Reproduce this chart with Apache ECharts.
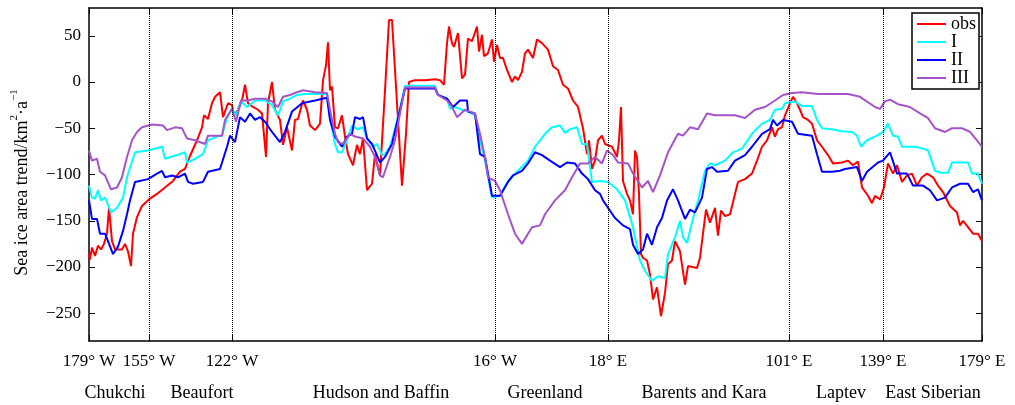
<!DOCTYPE html>
<html>
<head>
<meta charset="utf-8">
<script src="https://cdn.jsdelivr.net/npm/echarts@6/dist/echarts.min.js"></script>
<style>
  html, body { margin: 0; padding: 0; background: #fff; }
  #chart { width: 1015px; height: 405px; }
</style>
</head>
<body>
<div id="chart"></div>
<script>
// position along the coastline (0 = 179° W, 893 = 179° E)
const tickPos = [0, 60, 143, 406, 519, 700, 794, 893]
const tickLabels = ['179° W', '155° W', '122° W', '16° W', '18° E', '101° E', '139° E', '179° E']
const dividerPos = [60, 143, 406, 519, 700, 794]
const regionPos = [26, 113, 292, 456, 615, 752, 844]
const regionNames = ['Chukchi', 'Beaufort', 'Hudson and Baffin', 'Greenland', 'Barents and Kara', 'Laptev', 'East Siberian']
const yTicks = [-250, -200, -150, -100, -50, 0, 50]

const obsPos = [0,1,3,6,9,12,15,18,20,23,26,33,36,39,42,44,48,53,61,68,76,84,91,96,101,108,113,115,119,123,126,131,134,139,143,145,149,153,156,159,164,169,173,177,179,183,186,191,194,198,203,206,209,214,218,221,226,231,234,237,239,241,243,246,249,253,256,259,264,268,271,274,278,283,286,291,296,300,303,308,313,317,320,326,336,346,351,355,358,360,363,365,369,373,376,379,383,388,390,393,395,399,403,405,408,411,414,418,423,426,429,433,436,439,444,448,453,459,464,469,474,479,484,489,494,498,500,503,506,509,513,516,523,528,530,532,534,538,541,544,546,548,550,552,554,558,561,564,568,570,572,576,579,583,586,591,596,599,601,608,611,614,617,621,626,629,632,636,641,646,649,656,663,668,673,678,683,686,689,693,696,701,704,708,711,714,719,723,728,733,739,744,753,759,764,769,773,779,783,786,791,795,799,804,808,813,818,823,828,833,838,844,849,854,861,868,871,874,879,884,889,893]
const obs = [-186,-192,-179,-188,-177,-181,-175,-164,-136,-172,-181,-181,-175,-183,-199,-164,-146,-134,-126,-121,-114,-107,-97,-94,-80,-63,-49,-36,-40,-23,-16,-11,-38,-23,-25,-36,-30,-20,-3,-23,-27,-30,-34,-81,-23,0,-30,-41,-68,-49,-74,-41,-40,-20,-30,-47,-52,-45,2,18,43,-9,-5,-49,-50,-36,-59,-78,-90,-68,-78,-61,-117,-110,-78,-101,-9,67,67,-23,-112,-56,0,2,2,3,2,-3,42,60,42,38,53,4,8,47,44,60,33,51,28,31,46,22,40,26,26,13,0,6,2,11,31,35,26,46,42,35,17,13,-3,-7,-20,-27,-50,-78,-63,-94,-85,-63,-58,-67,-70,-81,-63,-27,-107,-121,-128,-143,-74,-81,-121,-186,-190,-193,-208,-235,-222,-220,-253,-228,-197,-193,-172,-183,-219,-199,-201,-201,-190,-164,-138,-152,-136,-166,-139,-145,-143,-121,-108,-105,-99,-85,-70,-63,-49,-59,-51,-49,-36,-23,-16,-23,-30,-38,-41,-45,-63,-70,-79,-88,-87,-85,-90,-86,-114,-123,-131,-123,-127,-114,-88,-99,-90,-108,-101,-99,-112,-103,-99,-103,-112,-119,-134,-141,-155,-150,-157,-164,-164,-172]

const iPos = [0,3,6,9,12,16,22,28,34,38,46,59,73,76,88,96,98,106,114,119,128,133,138,143,147,152,158,166,176,183,189,194,201,208,216,226,238,241,246,249,253,258,263,268,274,278,284,288,293,296,301,305,309,316,346,349,358,361,366,373,379,386,391,396,401,403,411,419,429,439,446,451,456,463,471,476,481,488,493,498,503,511,519,528,536,544,551,556,563,569,576,579,586,591,594,598,603,609,616,621,626,636,644,653,663,673,681,686,693,696,706,713,723,728,733,743,751,763,768,772,778,788,794,799,804,809,813,826,834,839,846,851,859,863,879,883,889,893]
const modelI = [-112,-125,-126,-117,-128,-125,-141,-136,-125,-103,-76,-74,-70,-83,-79,-76,-87,-83,-78,-63,-59,-58,-39,-29,-36,-21,-27,-20,-20,-25,-36,-21,-18,-14,-13,-13,-13,-38,-67,-76,-76,-63,-47,-51,-49,-61,-70,-67,-79,-78,-70,-55,-38,-4,-4,-14,-18,-29,-27,-30,-32,-36,-63,-85,-114,-125,-123,-107,-96,-85,-70,-63,-56,-49,-47,-55,-51,-49,-67,-67,-108,-107,-108,-116,-128,-157,-193,-204,-215,-210,-212,-186,-168,-150,-168,-174,-152,-128,-96,-88,-90,-85,-76,-72,-56,-45,-41,-30,-29,-23,-21,-26,-26,-41,-50,-51,-53,-54,-58,-70,-63,-58,-54,-45,-58,-59,-70,-70,-72,-74,-96,-98,-98,-87,-87,-99,-99,-110]

const iiPos = [0,3,8,11,16,19,24,29,34,38,41,46,59,68,73,76,83,89,96,99,104,114,119,131,138,141,146,151,156,161,166,171,176,183,191,196,203,213,226,238,241,246,253,258,263,266,271,274,278,283,291,296,303,311,316,346,349,358,364,371,378,379,386,391,396,403,411,419,424,433,439,446,453,461,471,478,486,493,499,506,511,514,519,526,534,541,544,549,554,558,563,568,573,578,584,589,596,601,606,613,618,623,628,639,646,656,663,673,681,684,688,694,703,709,723,728,733,743,751,756,768,773,778,789,794,801,808,818,824,834,841,848,856,863,871,879,884,889,893]
const modelII = [-128,-148,-148,-164,-164,-172,-186,-178,-161,-143,-128,-108,-105,-99,-96,-103,-101,-103,-99,-108,-110,-108,-97,-94,-70,-58,-65,-38,-43,-34,-41,-38,-43,-54,-65,-54,-32,-23,-20,-17,-41,-59,-70,-59,-56,-38,-40,-38,-61,-67,-87,-81,-67,-30,-7,-7,-14,-18,-27,-20,-20,-32,-34,-78,-81,-123,-123,-108,-101,-96,-88,-76,-79,-85,-92,-87,-88,-99,-105,-117,-121,-128,-136,-147,-155,-159,-176,-186,-181,-164,-176,-157,-147,-128,-116,-128,-148,-138,-141,-125,-94,-92,-97,-96,-85,-79,-70,-56,-51,-41,-47,-41,-43,-56,-58,-78,-97,-97,-96,-94,-92,-107,-97,-87,-85,-76,-99,-99,-112,-112,-117,-128,-125,-114,-110,-110,-119,-116,-128]

const iiiPos = [0,3,8,11,16,22,28,33,38,43,48,53,63,74,78,86,93,98,106,116,119,133,136,143,147,152,159,166,176,183,189,194,201,208,214,226,238,241,246,249,254,261,266,274,281,286,291,294,298,301,306,311,316,329,346,349,358,363,368,376,381,386,391,396,399,406,411,419,426,433,439,443,451,456,466,476,483,491,499,506,513,518,524,529,539,544,553,559,564,571,579,589,594,601,609,618,626,636,646,656,666,676,686,694,703,713,729,743,759,771,786,791,796,801,809,821,831,839,846,856,863,873,881,888,893]
const modelIII = [-74,-85,-83,-97,-101,-116,-114,-103,-81,-63,-54,-49,-46,-47,-52,-49,-50,-61,-63,-67,-58,-58,-41,-29,-43,-20,-20,-18,-18,-21,-27,-16,-14,-11,-9,-11,-12,-30,-56,-65,-67,-56,-59,-61,-70,-81,-101,-103,-90,-81,-63,-34,-6,-6,-6,-14,-20,-27,-38,-30,-32,-34,-56,-81,-103,-107,-117,-143,-164,-175,-164,-157,-155,-143,-128,-117,-103,-88,-88,-81,-88,-74,-79,-87,-88,-99,-114,-107,-119,-101,-76,-56,-58,-49,-51,-34,-36,-36,-36,-39,-30,-27,-20,-14,-12,-11,-13,-13,-13,-16,-27,-29,-21,-19,-24,-27,-34,-39,-50,-54,-50,-50,-54,-63,-70]

const zip = (xs, ys) => xs.map((x, i) => [x, ys[i]])

const font = "'Liberation Serif', 'Times New Roman', serif"
const black = '#000'

const chart = echarts.init(document.getElementById('chart'), null, { renderer: 'canvas' })

const lineSeries = (name, xs, ys, color) => ({
  name,
  type: 'line',
  data: zip(xs, ys),
  symbol: 'none',
  lineStyle: { color, width: 2 },
  itemStyle: { color },
  animation: false
})

const obsSeries = lineSeries('obs', obsPos, obs, '#ff0000')
obsSeries.markLine = {
  silent: true,
  symbol: ['none', 'none'],
  label: { show: false },
  lineStyle: { color: black, type: 'dotted', width: 1 },
  data: dividerPos.map(v => ({ xAxis: v }))
}

// frame axes: never snap onto the zero line
const frameLine = { show: true, onZero: false, lineStyle: { color: black, width: 1.5 } }

const option = {
  backgroundColor: '#fff',
  animation: false,
  grid: { left: 89, right: 33, top: 8, bottom: 64, containLabel: false },
  legend: {
    orient: 'vertical',
    left: 912,
    top: 13,
    icon: 'rect',
    itemWidth: 29,
    itemHeight: 2,
    itemGap: 0,
    itemTextGap: 4,
    padding: [2, 3, 2, 5],
    borderColor: black,
    borderWidth: 1.5,
    backgroundColor: '#fff',
    textStyle: { fontFamily: font, fontSize: 18, lineHeight: 18, color: black },
    data: ['obs', 'I', 'II', 'III']
  },
  xAxis: [
    {
      type: 'value',
      min: 0,
      max: 893,
      position: 'bottom',
      axisLine: frameLine,
      axisTick: { show: true, inside: true, length: 6, customValues: tickPos, lineStyle: { color: black } },
      axisLabel: {
        customValues: tickPos,
        margin: 12,
        fontFamily: font,
        fontSize: 17,
        color: black,
        formatter: v => tickLabels[tickPos.indexOf(v)]
      },
      splitLine: { show: false }
    },
    {
      type: 'value',
      min: 0,
      max: 893,
      position: 'top',
      axisLine: frameLine,
      axisTick: { show: true, inside: true, length: 6, customValues: tickPos, lineStyle: { color: black } },
      axisLabel: { show: false },
      splitLine: { show: false }
    },
    {
      type: 'value',
      min: 0,
      max: 893,
      position: 'bottom',
      offset: 31,
      axisLine: { show: false, onZero: false },
      axisTick: { show: false },
      axisLabel: {
        customValues: regionPos,
        margin: 12,
        fontFamily: font,
        fontSize: 18,
        color: black,
        formatter: v => regionNames[regionPos.indexOf(v)]
      },
      splitLine: { show: false }
    }
  ],
  yAxis: [
    {
      type: 'value',
      min: -280,
      max: 80,
      position: 'left',
      name: '{a|Sea ice area trend/km}{s|2}{a|·a}{s|−1}',
      nameLocation: 'middle',
      nameGap: 58,
      nameTextStyle: {
        padding: [0, 16, 0, 0],
        rich: {
          a: { fontFamily: font, fontSize: 18, color: black, verticalAlign: 'bottom', lineHeight: 22 },
          s: { fontFamily: font, fontSize: 11, color: black, verticalAlign: 'top', lineHeight: 22 }
        }
      },
      axisLine: frameLine,
      axisTick: { show: true, inside: true, length: 6, customValues: yTicks, lineStyle: { color: black } },
      axisLabel: {
        customValues: yTicks,
        margin: 8,
        fontFamily: font,
        fontSize: 17,
        color: black,
        formatter: v => (v < 0 ? '\u2212' + Math.abs(v) : String(v))
      },
      splitLine: { show: false }
    },
    {
      type: 'value',
      min: -280,
      max: 80,
      position: 'right',
      axisLine: frameLine,
      axisTick: { show: true, inside: true, length: 6, customValues: yTicks, lineStyle: { color: black } },
      axisLabel: { show: false },
      splitLine: { show: false }
    }
  ],
  series: [
    obsSeries,
    lineSeries('I', iPos, modelI, '#00ffff'),
    lineSeries('II', iiPos, modelII, '#0000ff'),
    lineSeries('III', iiiPos, modelIII, '#a653c9')
  ]
}

chart.setOption(option)
</script>
</body>
</html>
